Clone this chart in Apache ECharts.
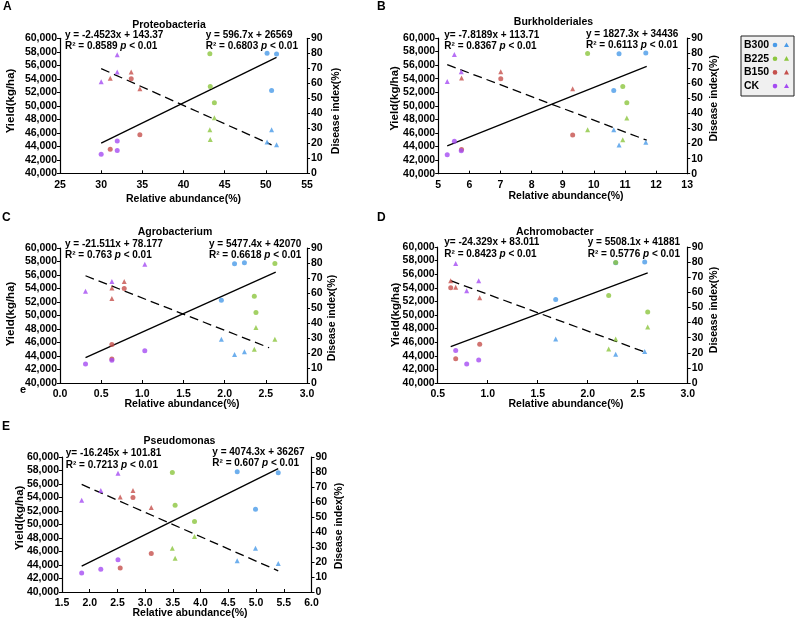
<!DOCTYPE html>
<html><head><meta charset="utf-8">
<script src="https://cdn.jsdelivr.net/npm/echarts@6/dist/echarts.min.js"></script>
<style>html,body{margin:0;padding:0;background:#fff}#chart{width:798px;height:621px}</style>
</head><body><div id="chart"></div>
<script>
// ---------- data ----------
const groupNames = ['B300', 'B225', 'B150', 'CK'];

const yieldB300 = [57800, 57680, 52270];
const yieldB225 = [57710, 52860, 50440];
const yieldB150 = [53990, 45710, 43550];
const yieldCK   = [42810, 44780, 43370];

const diseaseB300 = [20.8, 19.0, 29.1];
const diseaseB225 = [29.1, 22.5, 37.0];
const diseaseB150 = [67.6, 56.4, 63.4];
const diseaseCK   = [61.1, 79.1, 67.6];

// relative abundance per replicate, ordered B300 x3, B225 x3, B150 x3, CK x3
const abundProteobacteria  = [50.15, 51.3, 50.7, 43.2, 43.25, 43.75, 33.65, 34.7, 31.1, 30.0, 31.95, 31.95];
const abundBurkholderiales = [11.67, 10.81, 10.64, 9.80, 10.93, 11.06, 7.01, 9.32, 5.75, 5.29, 5.52, 5.74];
const abundAgrobacterium   = [2.24, 2.12, 1.96, 2.61, 2.36, 2.38, 0.78, 0.63, 0.63, 0.31, 1.03, 0.63];
const abundAchromobacter   = [2.57, 2.28, 1.68, 2.28, 2.21, 2.60, 0.63, 0.92, 0.68, 0.79, 0.68, 0.91];
const abundPseudomonas     = [4.66, 5.40, 4.99, 3.49, 3.54, 3.89, 2.78, 3.11, 2.55, 1.855, 2.51, 2.20];

// x axis [min, max, interval]
const xRangeProteobacteria  = [25, 55, 5];
const xRangeBurkholderiales = [5, 13, 1];
const xRangeAgrobacterium   = [0, 3, 0.5];
const xRangeAchromobacter   = [0.5, 3, 0.5];
const xRangePseudomonas     = [1.5, 6, 0.5];
const yieldRange   = [40000, 60000, 2000];
const diseaseRange = [0, 90, 10];

// trend line end points
const trendYieldProteobacteria    = [[30.0, 44470], [51.3, 57180]];
const trendDiseaseProteobacteria  = [[30.0, 69.8], [50.7, 19.0]];
const trendYieldBurkholderiales   = [[5.29, 44100], [11.70, 55815]];
const trendDiseaseBurkholderiales = [[5.29, 72.35], [11.70, 22.2]];
const trendYieldAgrobacterium     = [[0.31, 43770], [2.62, 56420]];
const trendDiseaseAgrobacterium   = [[0.31, 71.5], [2.54, 23.5]];
const trendYieldAchromobacter     = [[0.63, 45350], [2.60, 56200]];
const trendDiseaseAchromobacter   = [[0.63, 67.7], [2.60, 19.8]];
const trendYieldPseudomonas       = [[1.855, 43825], [5.40, 58270]];
const trendDiseasePseudomonas     = [[1.855, 71.7], [5.40, 14.1]];

// equation texts [equation, R²]
const eqDiseaseProteobacteria  = ['y = -2.4523x + 143.37', '0.8589'];
const eqYieldProteobacteria    = ['y = 596.7x + 26569', '0.6803'];
const eqDiseaseBurkholderiales = ['y= -7.8189x + 113.71', '0.8367'];
const eqYieldBurkholderiales   = ['y = 1827.3x + 34436', '0.6113'];
const eqDiseaseAgrobacterium   = ['y = -21.511x + 78.177', '0.763'];
const eqYieldAgrobacterium     = ['y = 5477.4x + 42070', '0.6618'];
const eqDiseaseAchromobacter   = ['y= -24.329x + 83.011', '0.8423'];
const eqYieldAchromobacter     = ['y = 5508.1x + 41881', '0.5776'];
const eqDiseasePseudomonas     = ['y= -16.245x + 101.81', '0.7213'];
const eqYieldPseudomonas       = ['y = 4074.3x + 36267', '0.607'];

// ---------- layout / style ----------
const FONT = '"Liberation Sans", Arial, Helvetica, sans-serif';
const groupColors = ['#4a9be8', '#8cc63f', '#c5504c', '#a54cf2'];
const yields = [yieldB300, yieldB225, yieldB150, yieldCK];
const diseases = [diseaseB300, diseaseB225, diseaseB150, diseaseCK];

const panels = [
  {letter: 'A', title: 'Proteobacteria', abund: abundProteobacteria, xr: xRangeProteobacteria, dec: 0,
   ty: trendYieldProteobacteria, td: trendDiseaseProteobacteria, eqD: eqDiseaseProteobacteria, eqY: eqYieldProteobacteria,
   grid: {left: 60, top: 38.3, width: 247, height: 135}, letterPos: [3, 1], titlePos: [169, 25],
   eqL: [65, 35, 46], eqR: [205.7, 35, 46], xName: [183.5, 199.5], yName: [11, 101], dName: [336, 111]},
  {letter: 'B', title: 'Burkholderiales', abund: abundBurkholderiales, xr: xRangeBurkholderiales, dec: 0,
   ty: trendYieldBurkholderiales, td: trendDiseaseBurkholderiales, eqD: eqDiseaseBurkholderiales, eqY: eqYieldBurkholderiales,
   grid: {left: 438.2, top: 38, width: 249, height: 135.7}, letterPos: [377, 1], titlePos: [553.5, 22.3],
   eqL: [444.3, 35.7, 46.7], eqR: [586, 34.3, 45.7], xName: [566, 195.7], yName: [395, 98.5], dName: [714, 98.3]},
  {letter: 'C', title: 'Agrobacterium', abund: abundAgrobacterium, xr: xRangeAgrobacterium, dec: 1,
   ty: trendYieldAgrobacterium, td: trendDiseaseAgrobacterium, eqD: eqDiseaseAgrobacterium, eqY: eqYieldAgrobacterium,
   grid: {left: 60, top: 248, width: 247, height: 135}, letterPos: [2, 212], titlePos: [175, 232.3],
   eqL: [65, 244, 255.7], eqR: [209, 244, 255.7], xName: [182, 403.7], yName: [11, 314], dName: [332.5, 318]},
  {letter: 'D', title: 'Achromobacter', abund: abundAchromobacter, xr: xRangeAchromobacter, dec: 1,
   ty: trendYieldAchromobacter, td: trendDiseaseAchromobacter, eqD: eqDiseaseAchromobacter, eqY: eqYieldAchromobacter,
   grid: {left: 437.7, top: 247, width: 250, height: 136}, letterPos: [377, 212], titlePos: [554.7, 232],
   eqL: [444.3, 242.7, 254.3], eqR: [587.7, 242.7, 254.3], xName: [566, 404], yName: [396, 315], dName: [714, 310]},
  {letter: 'E', title: 'Pseudomonas', abund: abundPseudomonas, xr: xRangePseudomonas, dec: 1,
   ty: trendYieldPseudomonas, td: trendDiseasePseudomonas, eqD: eqDiseasePseudomonas, eqY: eqYieldPseudomonas,
   grid: {left: 62, top: 457, width: 249.5, height: 135}, letterPos: [2, 421], titlePos: [179.5, 440.7],
   eqL: [65.7, 453.3, 465], eqR: [212.3, 452.3, 463.3], xName: [190, 613], yName: [19.5, 518], dName: [339, 526]}
];

const grids = [], xAxes = [], yAxes = [], series = [], graphics = [];
const lblStyle = {color: '#000', fontSize: 10.5, fontWeight: 'bold', fontFamily: FONT};
const axLine = {show: true, lineStyle: {color: '#000', width: 1.2}};

function txt(x, y, text, extra) {
  return Object.assign({type: 'text', x: x, y: y, silent: true,
    style: Object.assign({text: text, fill: '#000', fontSize: 10.5, fontWeight: 'bold', fontFamily: FONT,
      align: 'left', verticalAlign: 'middle'}, (extra && extra.style) || {})}, (extra && extra.el) || {});
}
function r2text(x, y, r2) {
  return {type: 'text', x: x, y: y, silent: true,
    style: {text: '{n|R² = ' + r2 + ' }{i|p}{n| < 0.01}', verticalAlign: 'middle', align: 'left',
      rich: {n: {fontSize: 10, fontWeight: 'bold', fontFamily: FONT, fill: '#000'},
             i: {fontSize: 10, fontWeight: 'bold', fontStyle: 'italic', fontFamily: FONT, fill: '#000'}}}};
}

panels.forEach((p, pi) => {
  grids.push(Object.assign({containLabel: false}, p.grid));
  xAxes.push({type: 'value', gridIndex: pi, min: p.xr[0], max: p.xr[1], interval: p.xr[2],
    axisLine: axLine, axisTick: {show: true, inside: true, length: 3, lineStyle: {color: '#000'}},
    axisLabel: Object.assign({margin: 6, formatter: v => v.toFixed(p.dec)}, lblStyle),
    splitLine: {show: false}});
  yAxes.push({type: 'value', gridIndex: pi, position: 'left', min: yieldRange[0], max: yieldRange[1], interval: yieldRange[2],
    axisLine: axLine, axisTick: {show: true, length: 3, lineStyle: {color: '#000'}},
    axisLabel: Object.assign({margin: 3, formatter: v => v.toLocaleString('en-US')}, lblStyle),
    splitLine: {show: false}});
  yAxes.push({type: 'value', gridIndex: pi, position: 'right', min: diseaseRange[0], max: diseaseRange[1], interval: diseaseRange[2],
    axisLine: axLine, axisTick: {show: true, length: 3, lineStyle: {color: '#000'}},
    axisLabel: Object.assign({margin: 4}, lblStyle),
    splitLine: {show: false}});

  series.push({type: 'line', xAxisIndex: pi, yAxisIndex: 2 * pi, data: p.ty, symbol: 'none', silent: true,
    lineStyle: {color: '#000', width: 1.3}, z: 1});
  series.push({type: 'line', xAxisIndex: pi, yAxisIndex: 2 * pi + 1, data: p.td, symbol: 'none', silent: true,
    lineStyle: {color: '#000', width: 1.3, type: [9, 5]}, z: 1});

  groupNames.forEach((g, gi) => {
    series.push({type: 'scatter', name: g, xAxisIndex: pi, yAxisIndex: 2 * pi, symbol: 'circle', symbolSize: 5,
      itemStyle: {color: groupColors[gi]}, z: 3,
      data: yields[gi].map((y, k) => [p.abund[gi * 3 + k], y])});
    series.push({type: 'scatter', name: g, xAxisIndex: pi, yAxisIndex: 2 * pi + 1, symbol: 'triangle', symbolSize: 5,
      itemStyle: {color: groupColors[gi]}, z: 3,
      data: diseases[gi].map((d, k) => [p.abund[gi * 3 + k], d])});
  });

  graphics.push(txt(p.letterPos[0], p.letterPos[1], p.letter, {style: {fontSize: 12, verticalAlign: 'top'}}));
  graphics.push(txt(p.titlePos[0], p.titlePos[1], p.title, {style: {align: 'center'}}));
  graphics.push(txt(p.eqL[0], p.eqL[1], p.eqD[0], {style: {fontSize: 10}}));
  graphics.push(r2text(p.eqL[0], p.eqL[2], p.eqD[1]));
  graphics.push(txt(p.eqR[0], p.eqR[1], p.eqY[0], {style: {fontSize: 10}}));
  graphics.push(r2text(p.eqR[0], p.eqR[2], p.eqY[1]));
  graphics.push(txt(p.xName[0], p.xName[1], 'Relative abundance(%)', {style: {align: 'center'}}));
  graphics.push(txt(p.yName[0], p.yName[1], 'Yield(kg/ha)', {style: {align: 'center', fontSize: 11.5}, el: {rotation: Math.PI / 2}}));
  graphics.push(txt(p.dName[0], p.dName[1], 'Disease index(%)', {style: {align: 'center'}, el: {rotation: Math.PI / 2}}));
});

// stray glyph in panel C
graphics.push(txt(20, 390, 'e', {style: {fontSize: 11}}));

// legend box
graphics.push({type: 'rect', shape: {x: 741, y: 36, width: 53, height: 60}, silent: true,
  style: {fill: '#f0f0f0', stroke: '#222', lineWidth: 1}});
groupNames.forEach((g, gi) => {
  const cy = 45 + gi * 13.7;
  graphics.push(txt(744, cy, g, {style: {fontSize: 10.5}}));
  graphics.push({type: 'circle', shape: {cx: 775, cy: cy, r: 2.3}, silent: true, style: {fill: groupColors[gi]}});
  graphics.push({type: 'polygon', shape: {points: [[786.5, cy - 2.6], [784, cy + 2], [789, cy + 2]]}, silent: true,
    style: {fill: groupColors[gi]}});
});

const chart = echarts.init(document.getElementById('chart'), null, {renderer: 'canvas'});
chart.setOption({
  animation: false,
  backgroundColor: '#fff',
  grid: grids, xAxis: xAxes, yAxis: yAxes, series: series,
  graphic: graphics
});
</script>
</body></html>
